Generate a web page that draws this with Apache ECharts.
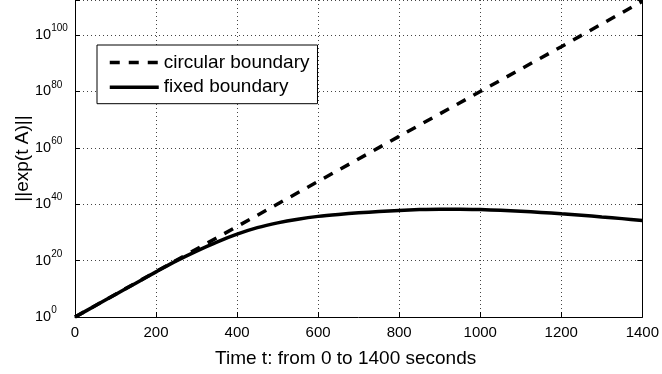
<!DOCTYPE html>
<html>
<head>
<meta charset="utf-8">
<script src="https://cdn.jsdelivr.net/npm/echarts@6/dist/echarts.min.js"></script>
<style>html,body{margin:0;padding:0;background:#fff}#c{width:662px;height:374px}</style>
</head>
<body>
<div id="c"></div>
<script>
// Time (s) and log10 of ||exp(tA)||
var circTimes = [0, 200, 400, 600, 800, 1000, 1200, 1400];
var circExp   = [0, 16.1, 32.1, 48.1, 64.1, 80.0, 95.9, 112.0];
var fixedTimes = [0, 50, 100, 150, 200, 250, 300, 350, 400, 450, 500, 550, 600, 650, 700, 750, 800, 850, 900, 950, 1000, 1050, 1100, 1150, 1200, 1250, 1300, 1350, 1400];
var fixedExp   = [0, 4.0, 8.0, 12.0, 16.0, 19.9, 23.4, 26.6, 29.4, 31.7, 33.4, 34.7, 35.7, 36.4, 36.95, 37.4, 37.8, 38.1, 38.25, 38.25, 38.1, 37.85, 37.5, 37.1, 36.6, 36.1, 35.5, 34.9, 34.2];
var xTicks = [0, 200, 400, 600, 800, 1000, 1200, 1400];
var yTickExps = [0, 20, 40, 60, 80, 100];
var seriesNames = ['circular boundary', 'fixed boundary'];

function pairs(ts, es){ return ts.map(function(t,i){ return [t, Math.pow(10, es[i])]; }); }

var FONT = '"Liberation Sans", Arial, Helvetica, sans-serif';
var chart = echarts.init(document.getElementById('c'), null, {renderer:'canvas'});
var yLabel = {
  show: true, align: 'left', margin: 40, fontFamily: FONT, color: '#000',
  formatter: function(v){
    var e = Math.round(Math.log(v)/Math.LN10);
    if (yTickExps.indexOf(e) < 0) return '';
    return '{b|10}{s|' + e + '}';
  },
  rich: {
    b: {fontSize: 14.5, fontFamily: FONT, color: '#000'},
    s: {fontSize: 10, fontFamily: FONT, color: '#000', padding: [0,0,13,0]}
  }
};
var gridDot = {show: true, lineStyle: {color: '#444', width: 1, type: [1, 3]}};
chart.setOption({
  animation: false,
  backgroundColor: '#fff',
  grid: {left: 75, right: 17, top: -2, bottom: 57, containLabel: false},
  legend: {
    orient: 'vertical', left: 97, top: 45,
    data: seriesNames,
    backgroundColor: '#fff', borderColor: '#000', borderWidth: 1, borderRadius: 0,
    padding: [8, 8, 7, 11], itemGap: 5.7, itemWidth: 49, itemHeight: 14,
    itemStyle: {opacity: 0, color: 'transparent', borderWidth: 0},
    lineStyle: {width: 3.5},
    textStyle: {fontSize: 19, lineHeight: 18, fontFamily: FONT, color: '#000'}
  },
  xAxis: [{
    type: 'value', min: 0, max: 1400, interval: 200,
    axisLine: {show: true, onZero: false, lineStyle: {color: '#000', width: 1}},
    axisTick: {show: true, inside: true, length: 5, lineStyle: {color: '#000'}},
    axisLabel: {fontSize: 15, fontFamily: FONT, color: '#000', margin: 8,
      formatter: function(v){ return xTicks.indexOf(v) >= 0 ? String(v) : ''; }},
    splitLine: gridDot,
    name: 'Time t: from 0 to 1400 seconds', nameLocation: 'middle', nameGap: 32,
    nameMoveOverlap: false,
    nameTextStyle: {fontSize: 19, fontFamily: FONT, color: '#000', padding: [0, 26, 0, 0]}
  }],
  yAxis: [{
    type: 'log', logBase: 10, min: 1, max: Math.pow(10, 112.46), interval: 20,
    axisLine: {show: true, onZero: false, lineStyle: {color: '#000', width: 1}},
    axisTick: {show: true, inside: true, length: 5, lineStyle: {color: '#000'}},
    axisLabel: yLabel,
    splitLine: gridDot,
    minorTick: {show: false}, minorSplitLine: {show: false},
    name: '||exp(t A)||', nameLocation: 'middle', nameGap: 43, nameRotate: 90,
    nameMoveOverlap: false,
    nameTextStyle: {fontSize: 19, fontFamily: FONT, color: '#000'}
  }, {
    type: 'log', logBase: 10, min: 1, max: Math.pow(10, 112.46), interval: 20, position: 'right',
    axisLine: {show: true, onZero: false, lineStyle: {color: '#000', width: 1}},
    axisTick: {show: true, inside: true, length: 5, lineStyle: {color: '#000'}},
    axisLabel: {show: false}, splitLine: {show: false}
  }],
  series: [{
    name: seriesNames[0], type: 'line', data: pairs(circTimes, circExp),
    showSymbol: false, symbol: 'none', clip: true,
    lineStyle: {color: '#000', width: 3.5, type: [10, 9]},
    itemStyle: {color: '#000'}
  }, {
    name: seriesNames[1], type: 'line', data: pairs(fixedTimes, fixedExp),
    showSymbol: false, symbol: 'none', smooth: 0.3, clip: true,
    lineStyle: {color: '#000', width: 3.5, type: 'solid'},
    itemStyle: {color: '#000'}
  }]
});
</script>
</body>
</html>
